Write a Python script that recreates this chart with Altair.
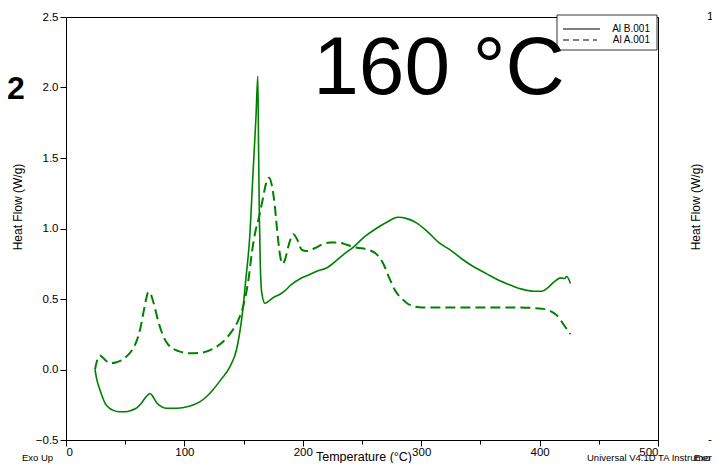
import altair as alt
import pandas as pd

# ---- data ----
b_temp = [24.5, 26, 28.7, 31, 33, 37, 40, 45, 50, 55, 60, 64, 67, 71, 74, 77, 81, 85, 94, 104,
          113, 119, 124, 131, 138.5, 144, 146.5, 149, 152, 155, 158, 160.5, 162, 162.6, 163.3,
          164, 165.4, 168, 172, 175, 180, 185, 190, 197, 205, 213, 220, 228, 235, 243, 252,
          262, 272, 280, 288, 296, 305, 315, 325, 335, 345, 355, 365, 375, 385, 395, 402, 407,
          412, 418, 421, 423, 426]
b_flow = [0.0, -0.07, -0.145, -0.2, -0.24, -0.275, -0.29, -0.30, -0.30, -0.29, -0.27, -0.235,
          -0.20, -0.17, -0.2, -0.24, -0.265, -0.275, -0.275, -0.26, -0.23, -0.19, -0.145, -0.07,
          0.02, 0.14, 0.25, 0.4, 0.65, 0.92, 1.4, 1.8, 2.08, 1.6, 1.1, 0.78, 0.54, 0.47, 0.49,
          0.51, 0.53, 0.56, 0.6, 0.64, 0.67, 0.7, 0.72, 0.77, 0.82, 0.87, 0.94, 1.0, 1.05, 1.08,
          1.07, 1.04, 0.98, 0.9, 0.845, 0.78, 0.725, 0.68, 0.635, 0.6, 0.57, 0.555, 0.555, 0.58,
          0.62, 0.65, 0.645, 0.66, 0.61]

a_temp = [24.5, 26.5, 28.7, 31, 34, 37, 42, 48, 52, 56, 60, 63, 66, 68, 69.5, 71, 73, 75, 78,
          82, 86, 95, 105, 115, 125, 133, 140, 145, 150, 154, 157, 160, 163, 166, 169, 171.5,
          174, 176.5, 179, 181, 183, 185, 188, 192, 196, 199, 203, 210, 217, 223, 230, 237, 245,
          255, 262, 268, 273, 278, 284, 290, 301, 320, 350, 380, 403, 410, 415, 421, 426]
a_flow = [0.0, 0.07, 0.10, 0.085, 0.06, 0.045, 0.05, 0.07, 0.1, 0.14, 0.21, 0.3, 0.43, 0.51,
          0.55, 0.545, 0.5, 0.44, 0.34, 0.24, 0.18, 0.13, 0.115, 0.12, 0.15, 0.2, 0.27, 0.34,
          0.46, 0.63, 0.83, 0.98, 1.08, 1.2, 1.32, 1.36, 1.3, 1.15, 0.93, 0.8, 0.75, 0.78, 0.88,
          0.96, 0.91, 0.85, 0.84, 0.86, 0.89, 0.9, 0.9, 0.885, 0.865, 0.85, 0.82, 0.75, 0.65,
          0.56, 0.5, 0.46, 0.44, 0.44, 0.44, 0.44, 0.43, 0.41, 0.38, 0.31, 0.25]

series_names = ["Al B.001", "Al A.001"]
x_ticks = [v * 25 for v in range(0, 21)]
y_ticks = [-0.5 + v * 0.125 for v in range(0, 25)]

W, H = 592, 423
GREEN = "#008000"
FONT = "Liberation Sans"

df_b = pd.DataFrame({"T": b_temp, "HF": b_flow})
df_a = pd.DataFrame({"T": a_temp, "HF": a_flow})

xs = alt.Scale(domain=[0, 500], nice=False)
ys = alt.Scale(domain=[-0.5, 2.5], nice=False)

xaxis = alt.Axis(
    values=x_ticks, title=None, grid=False, labelFont=FONT, labelFontSize=11.5,
    labelColor="black", domainColor="black", tickColor="black", labelPadding=0,
    labelExpr="datum.value % 100 === 0 ? datum.label : ''", labelOverlap=False,
    tickSize={"condition": {"test": "datum.value % 100 === 0", "value": 6}, "value": 4},
    format="d",
)
yaxis = alt.Axis(
    values=y_ticks, title=None, grid=False, labelFont=FONT, labelFontSize=11.5,
    labelColor="black", domainColor="black", tickColor="black", labelPadding=2,
    labelExpr="abs(datum.value*2 - round(datum.value*2)) < 0.001 ? format(datum.value, '.1f') : ''",
    labelOverlap=False,
    tickSize={"condition": {"test": "abs(datum.value*2 - round(datum.value*2)) < 0.001", "value": 6}, "value": 4},
)

line_b = alt.Chart(df_b).mark_line(color=GREEN, strokeWidth=1.6, interpolate="monotone").encode(
    x=alt.X("T:Q", scale=xs, axis=xaxis),
    y=alt.Y("HF:Q", scale=ys, axis=yaxis),
    order="T:Q",
)
line_a = alt.Chart(df_a).mark_line(color=GREEN, strokeWidth=2, strokeDash=[10, 5],
                                   interpolate="monotone").encode(
    x=alt.X("T:Q", scale=xs),
    y=alt.Y("HF:Q", scale=ys),
    order="T:Q",
)

def txt(text, x, y, size, **kw):
    return alt.Chart(pd.DataFrame({"t": [text]})).mark_text(
        font=kw.pop("font", FONT), fontSize=size, color="black", **kw
    ).encode(x=alt.value(x), y=alt.value(y), text="t:N")

one = pd.DataFrame({"a": [0]})

# legend box
leg_box = alt.Chart(one).mark_rect(fill="white", stroke="black", strokeWidth=0.8).encode(
    x=alt.value(491), x2=alt.value(591), y=alt.value(-2), y2=alt.value(33))
leg_l1 = alt.Chart(one).mark_rule(color="black", strokeWidth=1).encode(
    x=alt.value(497), x2=alt.value(534), y=alt.value(12))
leg_l2 = alt.Chart(one).mark_rule(color="black", strokeWidth=1, strokeDash=[6, 4]).encode(
    x=alt.value(497), x2=alt.value(531), y=alt.value(23))
leg_t1 = txt(series_names[0], 584, 12, 10, align="right", baseline="middle")
leg_t2 = txt(series_names[1], 584, 23, 10, align="right", baseline="middle")

big = txt("160 °C", 373, 77, 82, align="center", baseline="alphabetic")
sub2 = txt("2", -59, 82, 32, align="left", baseline="alphabetic", fontWeight="bold")
ytitle = txt("Heat Flow (W/g)", -48, 190, 12, align="center", baseline="middle", angle=270)
xtitle = txt("Temperature (°C)", 298, 440, 12.5, align="center", baseline="middle")
exo = txt("Exo Up", -44, 441, 9.5, align="left", baseline="middle")
univ = txt("Universal V4.1D TA Instruments", 521, 441, 9.5, align="left", baseline="middle")
exo2 = txt("Exo Up", 628, 441, 9.5, align="left", baseline="middle")
r_title = txt("Heat Flow (W/g)", 630, 190, 12, align="center", baseline="middle", angle=270)
r_one = txt("1", 641, 0, 11.5, align="left", baseline="middle")
r_dash = txt("-", 642, 423, 11.5, align="left", baseline="middle")

chart = alt.layer(
    line_b, line_a, leg_box, leg_l1, leg_l2, leg_t1, leg_t2, big, sub2, ytitle, xtitle,
    exo, univ, exo2, r_title, r_one, r_dash,
).properties(
    width=W, height=H,
    autosize=alt.AutoSizeParams(type="none"),
    padding={"left": 58, "top": 9, "right": 54, "bottom": 23},
    background="white",
).configure_view(stroke="black", strokeWidth=1)

chart.save("out.html", embed_options={"renderer": "svg", "actions": False})
